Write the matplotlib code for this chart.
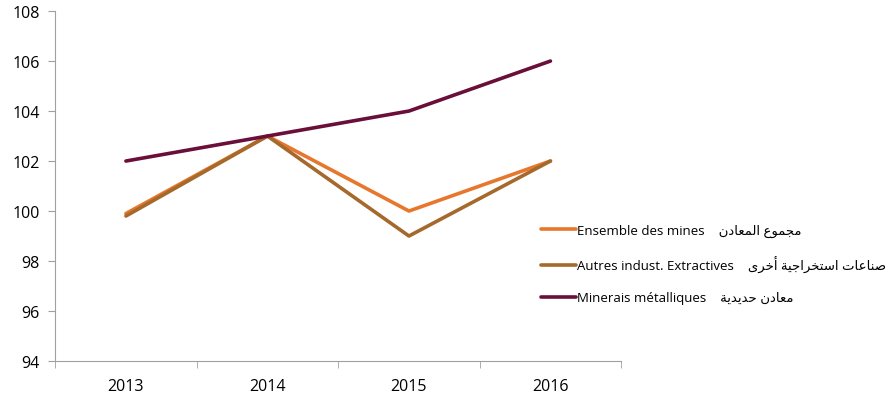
import matplotlib
matplotlib.use('Agg')
import matplotlib.pyplot as plt


def ar(codes):
    # Arabic in presentation forms, reversed to visual order
    return ''.join(chr(c) for c in codes)[::-1]


years = ['2013', '2014', '2015', '2016']
ensemble = [99.9, 103, 100, 102]
autres = [99.8, 103, 99, 102]
minerais = [102, 103, 104, 106]

ar_ensemble = ar([0xFEE3, 0xFEA0, 0xFEE4, 0xFEEE, 0xFEC9, 0x20,
                  0xFE8D, 0xFEDF, 0xFEE4, 0xFECC, 0xFE8E, 0xFEA9, 0xFEE5])
ar_autres = ar([0xFEBB, 0xFEE8, 0xFE8E, 0xFECB, 0xFE8E, 0xFE95, 0x20,
                0xFE8D, 0xFEB3, 0xFE98, 0xFEA8, 0xFEAE, 0xFE8D, 0xFE9F, 0xFEF4, 0xFE94, 0x20,
                0xFE83, 0xFEA7, 0xFEAE, 0xFEEF])
ar_minerais = ar([0xFEE3, 0xFECC, 0xFE8E, 0xFEA9, 0xFEE5, 0x20,
                  0xFEA3, 0xFEAA, 0xFEF3, 0xFEAA, 0xFEF3, 0xFE94])

labels = ['Ensemble des mines    ' + ar_ensemble,
          'Autres indust. Extractives    ' + ar_autres,
          'Minerais métalliques    ' + ar_minerais]
colors = ['#E8772E', '#A5692C', '#6A0E3A']

plt.rcParams['font.family'] = ['Open Sans', 'DejaVu Sans']

fig = plt.figure(figsize=(8.9, 4.02), dpi=100)
ax = fig.add_axes([0.062, 0.0995, 0.636, 0.8705])

x = range(len(years))
for vals, lab, col in zip([ensemble, autres, minerais], labels, colors):
    ax.plot(x, vals, color=col, lw=2.6, solid_capstyle='round',
            solid_joinstyle='round', label=lab)

ax.set_xlim(-0.5, 3.5)
ax.set_ylim(94, 108)
ax.set_yticks(range(94, 109, 2))
ax.set_xticks(list(x))
ax.set_xticklabels(years)
ax.set_xticks([-0.5, 0.5, 1.5, 2.5, 3.5], minor=True)
ax.tick_params(axis='x', which='major', length=0, pad=12, labelsize=11.5)
ax.tick_params(axis='x', which='minor', length=5, color='#A0A0A0')
ax.tick_params(axis='y', length=5, color='#A0A0A0', labelsize=11.5, pad=6)

for s in ['top', 'right']:
    ax.spines[s].set_visible(False)
for s in ['left', 'bottom']:
    ax.spines[s].set_color('#A0A0A0')

fig.legend(loc='upper left', bbox_to_anchor=(0.595, 0.47), frameon=False,
           fontsize=9.5, handlelength=2.6, handletextpad=0.1, labelspacing=1.4)

fig.savefig('out.png', dpi=100)
